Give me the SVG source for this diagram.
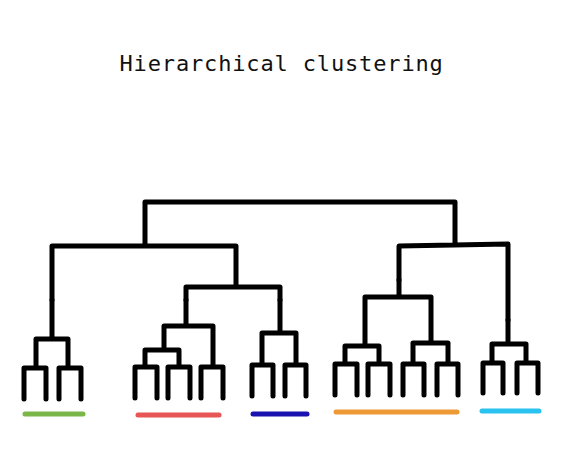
<svg xmlns="http://www.w3.org/2000/svg" width="577" height="456" viewBox="0 0 577 456">
<style>
.t{fill:none;stroke:#000;stroke-width:5;stroke-linecap:round;stroke-linejoin:round}
.c{fill:none;stroke-width:5;stroke-linecap:round}
.title{font-family:"DejaVu Sans Mono","Liberation Mono",monospace;font-size:22px;letter-spacing:0.85px;fill:#111}
</style>
<rect width="577" height="456" fill="#fff"/>
<text class="title" x="119.5" y="71">Hierarchical clustering</text>
<g id="cluster-green">
<path class="t" d="M24 399V368H46V399M59 399V368H81V399M36 368V339H68V368M52 339V300"/>
<path class="c" stroke="#7ab648" d="M25 414H83"/>
</g>
<g id="cluster-red">
<path class="t" d="M135 398V367H157V398M168 398V367H190V398M201 398V367H223V398M145 367V350H179V367M164 350V326H213V367M186 326V300"/>
<path class="c" stroke="#e85555" d="M138 415H219"/>
</g>
<g id="cluster-blue">
<path class="t" d="M252 396V365H273V396M285 396V365H306V396M262 365V333H296V365M280 333V300"/>
<path class="c" stroke="#1a12b0" d="M253 414H307"/>
</g>
<g id="cluster-orange">
<path class="t" d="M335 395V364H357V395M368 395V364H390V395M403 395V364H424V395M437 395V364H458V395M345 364V346H379V364M413 364V343H448V364M365 346V297H431V343M399 297V280"/>
<path class="c" stroke="#ed9a36" d="M336 412H457"/>
</g>
<g id="cluster-cyan">
<path class="t" d="M483 393V363H503V393M517 393V363H538V393M492 363V344H526V363M508 344V320"/>
<path class="c" stroke="#2ac3f0" d="M482 411H539"/>
</g>
<g id="connectors">
<path class="t" d="M52 300V246H236V287M186 300V287H280V300M145 246V202H455V245M399 280V246L508 244V320"/>
</g>
</svg>
